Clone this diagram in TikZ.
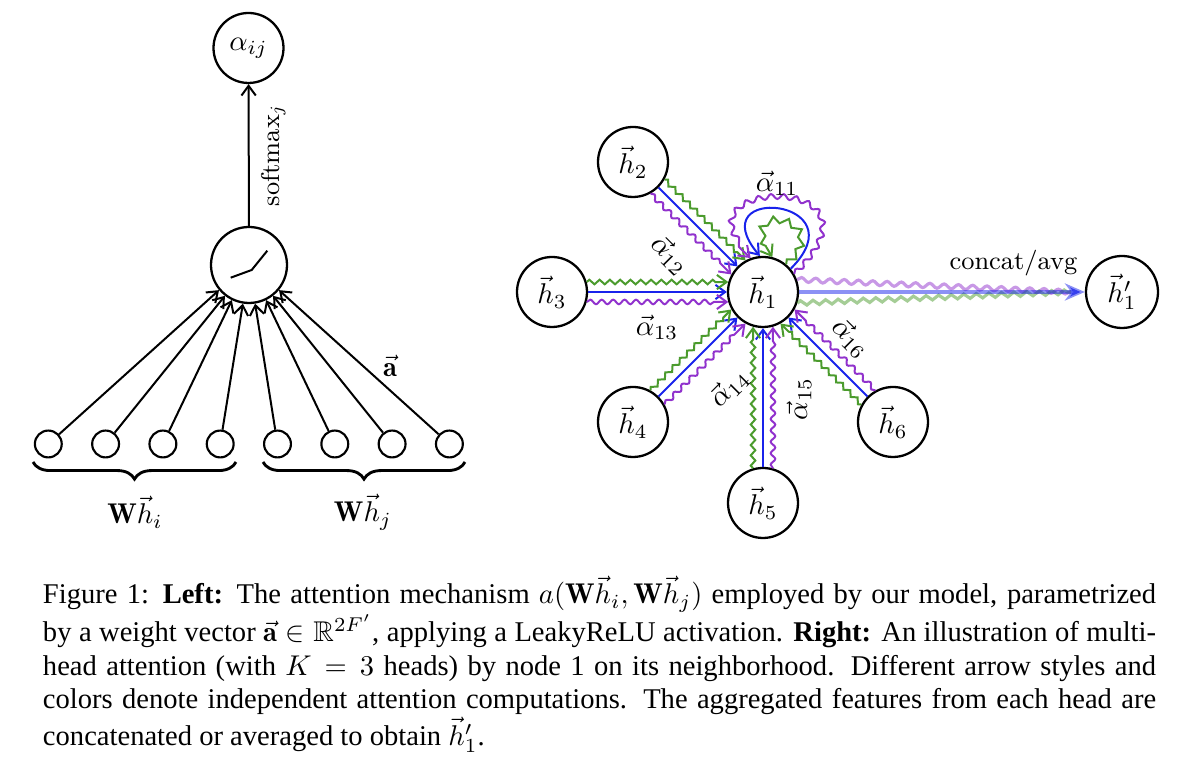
\RequirePackage{fix-cm}
\documentclass[tikz,border=0pt]{standalone}
\usepackage{amsmath,amssymb}
\usepackage{fontspec}
\newfontfamily\captionfont{Liberation Serif}
\usetikzlibrary{decorations.pathmorphing,decorations.pathreplacing,arrows.meta,positioning,calc}
\definecolor{headblue}{RGB}{25,35,235}
\definecolor{headgreen}{RGB}{75,155,45}
\definecolor{headpurple}{RGB}{145,50,205}
\begin{document}
\begin{tikzpicture}[x=0.35pt, y=0.35pt, font=\fontsize{10}{12}\selectfont, line width=0.7pt,
  >={Straight Barb[length=3.4pt,width=5pt]},
  main node/.style={circle,draw,line width=0.8pt,minimum size=24.5pt,inner sep=0pt},
  small node/.style={circle,draw,line width=0.75pt,minimum size=9.4pt,inner sep=0pt},
  small text/.style={font=\fontsize{9}{11}\selectfont},
  head1/.style={headblue,line width=0.7pt,->},
  head2/.style={headgreen,line width=0.7pt,->,decorate,
    decoration={zigzag,amplitude=0.8pt,segment length=3.6pt,post length=4pt}},
  head3/.style={headpurple,line width=0.7pt,->,decorate,
    decoration={snake,amplitude=0.8pt,segment length=4pt,post length=4pt}},
  under brace/.style={decorate,decoration={brace,mirror,amplitude=6pt},line width=1pt}]
\useasboundingbox (0,0) rectangle (1200,766);

% left: attention mechanism
\node [main node] (alpha) at (248.5,718) {$\alpha_{ij}$};
\node [main node, minimum size=26.6pt] (relu) at (249,501) {};
\draw (230.7,488.3) -- (251.7,496) -- (267.3,515.3);
\draw [->] (relu) -- node [small text, midway, rotate=90, anchor=north, inner sep=4pt] {softmax$_j$} (alpha);
\foreach \i in {1,...,8}
  \node [small node] (in\i) at ({48.3+57.3*(\i-1)},322) {};
\foreach \i/\a in {1/220,2/232,3/244,4/261,5/279,6/296,7/308,8/320}
  \draw [->] (in\i) -- (relu.\a);
\draw [under brace] (33,304) -- (236,304);
\draw [under brace] (263,304) -- (465,304);
\node (whi) at (135,254) {$\mathbf{W}\vec{h}_i$};
\node (whj) at (363,254) {$\mathbf{W}\vec{h}_j$};
\node (avec) at (390,400) {$\vec{\mathbf{a}}$};

% right: multi-head attention
\node [main node] (h1) at (763,474) {$\vec{h}_1$};
\node [main node] (h2) at (633,604) {$\vec{h}_2$};
\node [main node] (h3) at (552,474) {$\vec{h}_3$};
\node [main node] (h4) at (633,344) {$\vec{h}_4$};
\node [main node] (h5) at (763,263) {$\vec{h}_5$};
\node [main node] (h6) at (893,344) {$\vec{h}_6$};
\node [main node, minimum size=25.2pt] (h1p) at (1122,474) {$\vec{h}'_1$};
\coordinate (merge) at ($(h1p.west)+(-14,0)$);

\foreach \n/\a in {2/135,3/180,4/225,5/270,6/315}{
  \pgfmathtruncatemacro\gh{mod(\a+344,360)}
  \pgfmathtruncatemacro\gn{mod(\a+196,360)}
  \pgfmathtruncatemacro\ph{mod(\a+16,360)}
  \pgfmathtruncatemacro\pn{mod(\a+164,360)}
  \draw [head1] (h\n) -- (h1);
  \draw [head2] (h\n.\gn) -- (h1.\gh);
  \draw [head3] (h\n.\pn) -- (h1.\ph);
}
% self attention
\draw [head1] (h1.40) .. controls +(45:100) and +(130:95) .. (h1.95);
\draw [head2, decoration={segment length=5pt,amplitude=1.2pt}] (h1.50) .. controls +(40:70) and +(125:75) .. (h1.75);
\draw [head3, decoration={segment length=4.4pt,amplitude=0.9pt}] (h1.30) .. controls +(45:145) and +(140:120) .. (h1.110);

% aggregation
\draw [headpurple, line width=1.1pt, draw opacity=0.5, decorate,
  decoration={snake,amplitude=0.8pt,segment length=5pt}] (h1.20) -- (merge);
\draw [headgreen, line width=1.1pt, draw opacity=0.5, decorate,
  decoration={zigzag,amplitude=0.8pt,segment length=4.4pt}] (h1.-18) -- (merge);
\draw [headblue, line width=1.4pt, draw opacity=0.5, fill opacity=0.75,
  -{Stealth[length=7pt,width=6pt]}] (h1) -- node [small text, text=black, text opacity=1, pos=0.75, above=1.5pt] {concat/avg} (h1p);

\node (a11) at (777,583) {$\vec{\alpha}_{11}$};
\node [rotate=-45] (a12) at (670,511) {$\vec{\alpha}_{12}$};
\node (a13) at (657,439) {$\vec{\alpha}_{13}$};
\node [rotate=45] (a14) at (729,378) {$\vec{\alpha}_{14}$};
\node [rotate=90] (a15) at (799,367) {$\vec{\alpha}_{15}$};
\node [rotate=-45] (a16) at (851,428) {$\vec{\alpha}_{16}$};

% caption
\node [anchor=north west, inner sep=0pt, text width=389.6pt, align=justify,
  font={\captionfont\fontsize{10}{11.64}\selectfont}] (caption) at (42,191)
  {Figure 1: \textbf{Left:} The attention mechanism $a(\mathbf{W}\vec{h}_i,\mathbf{W}\vec{h}_j)$ employed by our model, parametrized\linebreak
  by a weight vector $\vec{\mathbf{a}}\in\mathbb{R}^{2F'}$, applying a LeakyReLU activation. \textbf{Right:} An illustration of multi-\linebreak
  head attention (with $K=3$ heads) by node 1 on its neighborhood. Different arrow styles and\linebreak
  colors denote independent attention computations. The aggregated features from each head are\linebreak
  concatenated or averaged to obtain $\vec{h}'_1$.};
\end{tikzpicture}
\end{document}
